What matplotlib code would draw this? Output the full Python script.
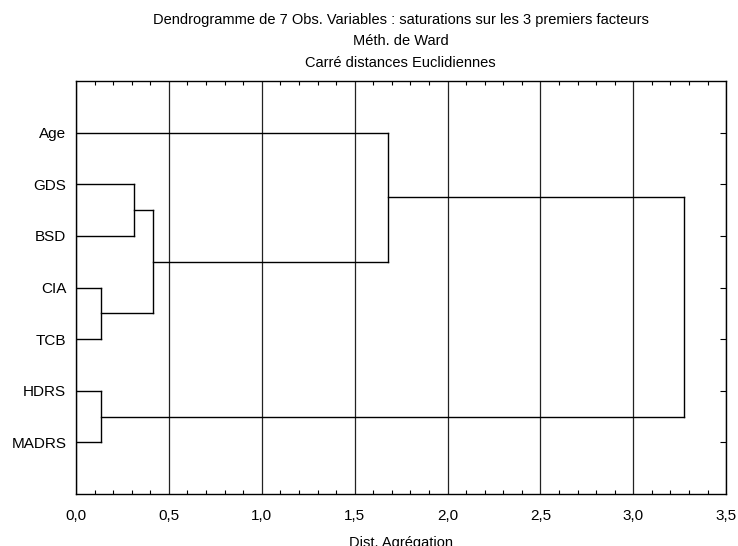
import matplotlib
matplotlib.use("Agg")
import matplotlib.pyplot as plt
from matplotlib.ticker import MultipleLocator, FuncFormatter

plt.rcParams['font.family'] = ['Liberation Sans', 'DejaVu Sans']

# leaves, top to bottom
labels = ["Age", "GDS", "BSD", "CIA", "TCB", "HDRS", "MADRS"]
# merges: (left node, right node, distance); nodes 7+ are earlier merges
merge_left = [3, 5, 1, 9, 0, 11]
merge_right = [4, 6, 2, 7, 10, 8]
merge_dist = [0.135, 0.135, 0.31, 0.415, 1.68, 3.275]

fig = plt.figure(figsize=(7.38, 5.46), dpi=100)
ax = fig.add_axes([0.103, 0.0952, 0.881, 0.7564])

n = len(labels)
ypos = {i: n - i for i in range(n)}
xpos = {i: 0.0 for i in range(n)}

for k, (a, b, d) in enumerate(zip(merge_left, merge_right, merge_dist)):
    node = n + k
    ax.plot([xpos[a], d], [ypos[a], ypos[a]], color='black', lw=1, zorder=3)
    ax.plot([xpos[b], d], [ypos[b], ypos[b]], color='black', lw=1, zorder=3)
    ax.plot([d, d], [ypos[a], ypos[b]], color='black', lw=1, zorder=3)
    ypos[node] = (ypos[a] + ypos[b]) / 2
    xpos[node] = d

ax.set_xlim(0, 3.5)
ax.set_ylim(0, n + 1)
ax.set_yticks([ypos[i] for i in range(n)])
ax.set_yticklabels(labels, fontsize=11)

ax.xaxis.set_major_locator(MultipleLocator(0.5))
ax.xaxis.set_minor_locator(MultipleLocator(0.1))
ax.xaxis.set_major_formatter(FuncFormatter(lambda v, p: f"{v:.1f}".replace('.', ',')))
ax.tick_params(axis='x', which='major', length=0, labelsize=11, pad=11)
ax.tick_params(axis='x', which='minor', direction='in', length=3, top=True, bottom=True, width=0.8)
ax.tick_params(axis='y', which='major', left=False, right=True, direction='in', length=4,
               width=0.8, pad=7)
ax.grid(True, axis='x', which='major', color='#222222', lw=0.9, zorder=1)

for s in ax.spines.values():
    s.set_linewidth(1)

ax.set_xlabel("Dist. Agrégation", fontsize=10.5, labelpad=9)
fig.suptitle("Dendrogramme de 7 Obs. Variables : saturations sur les 3 premiers facteurs\n"
             "Méth. de Ward\nCarré distances Euclidiennes",
             fontsize=10.5, x=0.543, y=0.977, linespacing=1.72)

fig.savefig("out.png", dpi=100)
